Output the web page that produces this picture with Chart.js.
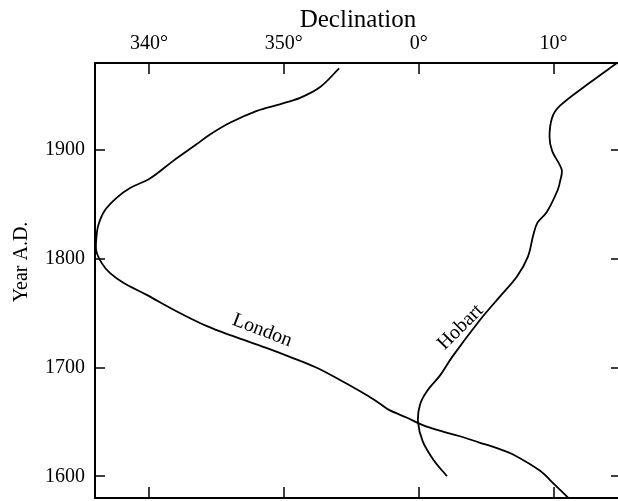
<!DOCTYPE html>
<html>
<head>
<meta charset="utf-8">
<script src="https://cdn.jsdelivr.net/npm/chart.js@4.4.0/dist/chart.umd.min.js"></script>
<style>
    html, body { margin: 0; padding: 0; background: #fff; overflow: hidden; }
    #wrap { width: 622px; height: 501px; }
</style>
</head>
<body>
<div id="wrap"><canvas id="declChart"></canvas></div>
<script>
// declination in degrees, east positive (340° = -20)
var londonYears = [1580, 1592, 1605, 1620, 1625, 1631, 1637, 1641, 1647, 1654, 1661, 1667, 1675, 1689, 1700, 1710, 1718, 1729, 1738, 1752,
                   1767, 1778, 1787, 1796, 1807, 1819, 1831, 1844, 1856, 1865, 1874, 1890, 1905, 1914, 1925, 1936, 1942, 1948, 1958, 1975];
var londonDecl = [11.1, 10.1, 9.0, 7.0, 6.0, 4.5, 3.0, 1.8, 0.3, -0.9, -2.2, -2.9, -3.9, -5.9, -7.6, -9.6, -11.3, -13.8, -15.7, -18.0,
                  -20.2, -21.9, -22.9, -23.5, -23.9, -23.9, -23.75, -23.3, -22.4, -21.4, -19.9, -18.2, -16.5, -15.5, -14.0, -12.0, -10.3, -8.8, -7.3, -5.9];

var hobartYears = [1600, 1615, 1632, 1650, 1666, 1678, 1693, 1710, 1743, 1765, 1784, 1802, 1822, 1833, 1843, 1863, 1872, 1882, 1899, 1912, 1930, 1941, 1962, 1980];
var hobartDecl = [2.1, 1.1, 0.3, -0.05, 0.1, 0.6, 1.6, 2.5, 4.5, 6.0, 7.3, 8.1, 8.5, 8.8, 9.5, 10.3, 10.5, 10.6, 9.9, 9.7, 9.9, 10.5, 12.7, 14.7];

var xTickLabels = { '-20': '340°', '-10': '350°', '0': '0°', '10': '10°' };
var yTickLabels = [1600, 1700, 1800, 1900];

var serif = '"Liberation Serif", "DejaVu Serif", serif';

function toPoints(years, decl) {
    return years.map(function (y, i) { return { x: decl[i], y: y }; });
}

// frame, inward ticks and text along the curves
var frameTicks = {
    id: 'frameTicks',
    afterDraw: function (chart) {
        var ctx = chart.ctx, a = chart.chartArea;
        var xs = chart.scales.x, ys = chart.scales.y;
        ctx.save();
        ctx.strokeStyle = '#000';
        ctx.lineWidth = 2;
        ctx.strokeRect(a.left, a.top, a.right - a.left, a.bottom - a.top);

        ctx.lineWidth = 1.5;
        ctx.beginPath();
        xs.ticks.forEach(function (t) {
            if (t.value % 2 !== 0) return;
            var px = Math.round(xs.getPixelForValue(t.value));
            var len = t.value % 10 === 0 ? 11 : 6;
            ctx.moveTo(px, a.top); ctx.lineTo(px, a.top + len);
            ctx.moveTo(px, a.bottom); ctx.lineTo(px, a.bottom - len);
        });
        ys.ticks.forEach(function (t) {
            if (t.value % 20 !== 0) return;
            var py = Math.round(ys.getPixelForValue(t.value));
            var len = t.value % 100 === 0 ? 10 : 6;
            ctx.moveTo(a.left, py); ctx.lineTo(a.left + len, py);
            ctx.moveTo(a.right, py); ctx.lineTo(a.right - len, py);
        });
        ctx.stroke();

        ctx.fillStyle = '#000';
        ctx.textAlign = 'center';
        ctx.textBaseline = 'middle';

        // y axis title
        ctx.save();
        ctx.font = '20px ' + serif;
        ctx.translate(22, 262);
        ctx.rotate(-Math.PI / 2);
        ctx.fillText('Year A.D.', 0, 0);
        ctx.restore();

        // curve labels
        ctx.font = '20px ' + serif;
        [['London', -11.6, 1734, 21], ['Hobart', 3.1, 1737, -45]].forEach(function (l) {
            ctx.save();
            ctx.translate(xs.getPixelForValue(l[1]), ys.getPixelForValue(l[2]));
            ctx.rotate(l[3] * Math.PI / 180);
            ctx.fillText(l[0], 0, 0);
            ctx.restore();
        });
        ctx.restore();
    }
};

var ctx = document.getElementById('declChart').getContext('2d');
var myChart = new Chart(ctx, {
    type: 'scatter',
    data: {
        datasets: [{
            label: 'London',
            data: toPoints(londonYears, londonDecl),
            showLine: true,
            borderColor: '#000',
            borderWidth: 1.8,
            pointRadius: 0,
            tension: 0.35
        }, {
            label: 'Hobart',
            data: toPoints(hobartYears, hobartDecl),
            showLine: true,
            borderColor: '#000',
            borderWidth: 1.8,
            pointRadius: 0,
            tension: 0.35
        }]
    },
    options: {
        responsive: true,
        maintainAspectRatio: false,
        animation: false,
        devicePixelRatio: 1,
        layout: { padding: { left: 0, top: 0, right: 1, bottom: 3 } },
        plugins: {
            legend: { display: false },
            tooltip: { enabled: false }
        },
        scales: {
            x: {
                type: 'linear',
                position: 'top',
                min: -24,
                max: 15,
                grid: { display: false, drawTicks: false },
                border: { display: false },
                ticks: {
                    stepSize: 2,
                    autoSkip: false,
                    maxRotation: 0,
                    padding: 7,
                    color: '#000',
                    font: { family: serif, size: 20 },
                    callback: function (v) {
                        return xTickLabels[v] !== undefined ? xTickLabels[v] : null;
                    }
                },
                title: {
                    display: true,
                    text: 'Declination',
                    color: '#000',
                    font: { family: serif, size: 25 },
                    padding: { top: 5, bottom: 0 }
                },
                afterFit: function (scale) {
                    scale.height = 63;
                    scale.paddingLeft = 0;
                    scale.paddingRight = 0;
                }
            },
            y: {
                type: 'linear',
                min: 1580,
                max: 1980,
                grid: { display: false, drawTicks: false },
                border: { display: false },
                ticks: {
                    stepSize: 20,
                    autoSkip: false,
                    padding: 10,
                    color: '#000',
                    font: { family: serif, size: 20 },
                    callback: function (v) {
                        return yTickLabels.indexOf(v) >= 0 ? String(v) : null;
                    }
                },
                afterFit: function (scale) {
                    scale.width = 95;
                    scale.paddingTop = 0;
                    scale.paddingBottom = 0;
                }
            }
        }
    },
    plugins: [frameTicks]
});
</script>
</body>
</html>
